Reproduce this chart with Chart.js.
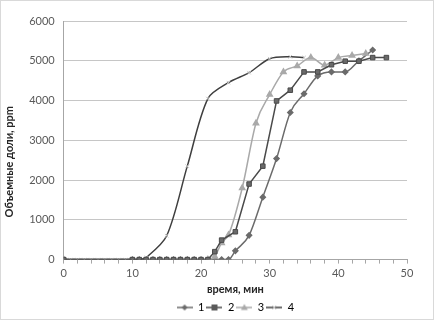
<!DOCTYPE html>
<html>
<head>
<meta charset="utf-8">
<script src="https://cdn.jsdelivr.net/npm/chart.js@4.4.1/dist/chart.umd.min.js"></script>
<style>
  html, body { margin: 0; padding: 0; background: #fff; }
  #wrap { width: 434px; height: 320px; box-sizing: border-box; border: 1px solid #d9d9d9; overflow: hidden; }
</style>
</head>
<body>
<div id="wrap"><canvas id="myChart"></canvas></div>
<script>
// время, мин / объемные доли, ppm
const time1 = [0, 10, 11, 12, 13, 14, 15, 16, 17, 18, 19, 20, 21, 22, 23, 24, 25, 27, 29, 31, 33, 35, 37, 39, 41, 43, 45];
const ppm1  = [0, 0, 0, 0, 0, 0, 0, 0, 0, 0, 0, 0, 0, 0, 0, 0, 220, 610, 1570, 2540, 3700, 4170, 4620, 4720, 4720, 5000, 5270];

const time2 = [0, 10, 11, 12, 13, 14, 15, 16, 17, 18, 19, 20, 21, 22, 23, 25, 27, 29, 31, 33, 35, 37, 39, 41, 43, 45, 47];
const ppm2  = [0, 0, 0, 0, 0, 0, 0, 0, 0, 0, 0, 0, 0, 200, 490, 700, 1900, 2350, 3990, 4260, 4720, 4720, 4900, 4990, 4990, 5080, 5080];

const time3 = [0, 21, 22, 23, 24, 26, 28, 30, 32, 34, 36, 38, 40, 42, 44];
const ppm3  = [0, 0, 80, 420, 620, 1800, 3430, 4150, 4720, 4870, 5080, 4890, 5080, 5130, 5180];

const time4 = [0, 1, 2, 3, 4, 5, 6, 7, 8, 9, 10, 11, 12, 15, 18, 21, 24, 27, 30, 33, 35];
const ppm4  = [0, 0, 0, 0, 0, 0, 0, 0, 0, 0, 0, 0, 50, 600, 2350, 4050, 4450, 4700, 5050, 5100, 5080];

const seriesNames = ["1", "2", "3", "4"];
const xTicks = [0, 10, 20, 30, 40, 50];

function pts(xs, ys) {
    return xs.map((x, i) => ({ x: x, y: ys[i] }));
}

// small legend symbol: line with marker in the middle
function legendIcon(color, markColor, shape) {
    const c = document.createElement("canvas");
    c.width = 16; c.height = 10;
    const g = c.getContext("2d");
    g.strokeStyle = color; g.lineWidth = 1.5;
    g.beginPath(); g.moveTo(0, 5); g.lineTo(16, 5); g.stroke();
    g.fillStyle = markColor; g.strokeStyle = markColor; g.lineWidth = 1;
    g.beginPath();
    if (shape === "diamond") { g.moveTo(8, 2); g.lineTo(11, 5); g.lineTo(8, 8); g.lineTo(5, 5); g.closePath(); g.fill(); }
    if (shape === "square") { g.fillRect(5, 2, 6, 6); }
    if (shape === "triangle") { g.moveTo(8, 1.5); g.lineTo(11.5, 7.5); g.lineTo(4.5, 7.5); g.closePath(); g.fill(); }
    if (shape === "cross") { g.moveTo(6, 3); g.lineTo(10, 7); g.moveTo(10, 3); g.lineTo(6, 7); g.stroke(); }
    return c;
}

const ctx = document.getElementById("myChart");
const myChart = new Chart(ctx, {
    type: "line",
    data: {
        datasets: [
            {
                label: seriesNames[0],
                data: pts(time1, ppm1),
                borderColor: "#6b6b6b",
                backgroundColor: "#6b6b6b",
                borderWidth: 1.5,
                pointStyle: "rectRot",
                pointRadius: 2.5,
                cubicInterpolationMode: "monotone",
                order: 3,
                legendIcon: legendIcon("#6b6b6b", "#6b6b6b", "diamond")
            },
            {
                label: seriesNames[1],
                data: pts(time2, ppm2),
                borderColor: "#4a4a4a",
                backgroundColor: "#6a6a6a",
                borderWidth: 1.5,
                pointStyle: "rect",
                pointRadius: 3.2,
                pointBorderColor: "#4a4a4a",
                pointBorderWidth: 1,
                tension: 0,
                order: 0,
                legendIcon: legendIcon("#4a4a4a", "#5a5a5a", "square")
            },
            {
                label: seriesNames[2],
                data: pts(time3, ppm3),
                borderColor: "#a9a9a9",
                backgroundColor: "#a9a9a9",
                borderWidth: 1.5,
                pointStyle: "triangle",
                pointRadius: 3,
                cubicInterpolationMode: "monotone",
                order: 2,
                legendIcon: legendIcon("#a9a9a9", "#a9a9a9", "triangle")
            },
            {
                label: seriesNames[3],
                data: pts(time4, ppm4),
                borderColor: "#3f3f3f",
                backgroundColor: "#c4c4c4",
                borderWidth: 1.5,
                pointStyle: "crossRot",
                pointRadius: 2.5,
                pointBorderColor: "#c4c4c4",
                pointBorderWidth: 1,
                tension: 0.3,
                order: 1,
                legendIcon: legendIcon("#3f3f3f", "#c4c4c4", "cross")
            }
        ]
    },
    options: {
        responsive: true,
        maintainAspectRatio: false,
        animation: false,
        layout: { padding: { top: 20, right: 26, left: 2, bottom: -4 } },
        plugins: {
            tooltip: { enabled: false },
            legend: {
                position: "bottom",
                fullSize: false,
                labels: {
                    usePointStyle: true,
                    pointStyleWidth: 16,
                    boxHeight: 10,
                    padding: 2,
                    color: "#404040",
                    font: { family: "Lato", size: 11 },
                    generateLabels: (chart) => chart.data.datasets.map((ds, i) => ({
                        text: ds.label,
                        pointStyle: ds.legendIcon,
                        fillStyle: ds.borderColor,
                        strokeStyle: ds.borderColor,
                        lineWidth: 0,
                        datasetIndex: i
                    }))
                }
            }
        },
        scales: {
            x: {
                type: "linear",
                min: 0,
                max: 50,
                afterBuildTicks: (axis) => { axis.ticks = [];
                    for (let v = 0; v <= 50; v += 2) axis.ticks.push({ value: v }); },
                border: { color: "#a6a6a6" },
                grid: { drawOnChartArea: false, tickLength: 4, color: "#a6a6a6" },
                ticks: {
                    autoSkip: false,
                    maxRotation: 0,
                    padding: 3,
                    color: "#595959",
                    font: { family: "Lato", size: 11 },
                    callback: (v) => xTicks.includes(v) ? String(v) : ""
                },
                title: {
                    display: true,
                    text: "время, мин",
                    color: "#262626",
                    font: { family: "Lato", size: 11, weight: "bold" },
                    padding: { top: 0, bottom: 4 }
                }
            },
            y: {
                min: 0,
                max: 6000,
                border: { color: "#a6a6a6" },
                grid: { color: "#c6c6c6", drawTicks: false },
                ticks: {
                    stepSize: 1000,
                    padding: 9,
                    color: "#595959",
                    font: { family: "Lato", size: 11 },
                    callback: (v) => String(v)
                },
                title: {
                    display: true,
                    text: "Объемные доли, ppm                ",
                    color: "#262626",
                    font: { family: "Lato", size: 11, weight: "bold" },
                    padding: { top: 0, bottom: 4 }
                }
            }
        }
    }
});
</script>
</body>
</html>
